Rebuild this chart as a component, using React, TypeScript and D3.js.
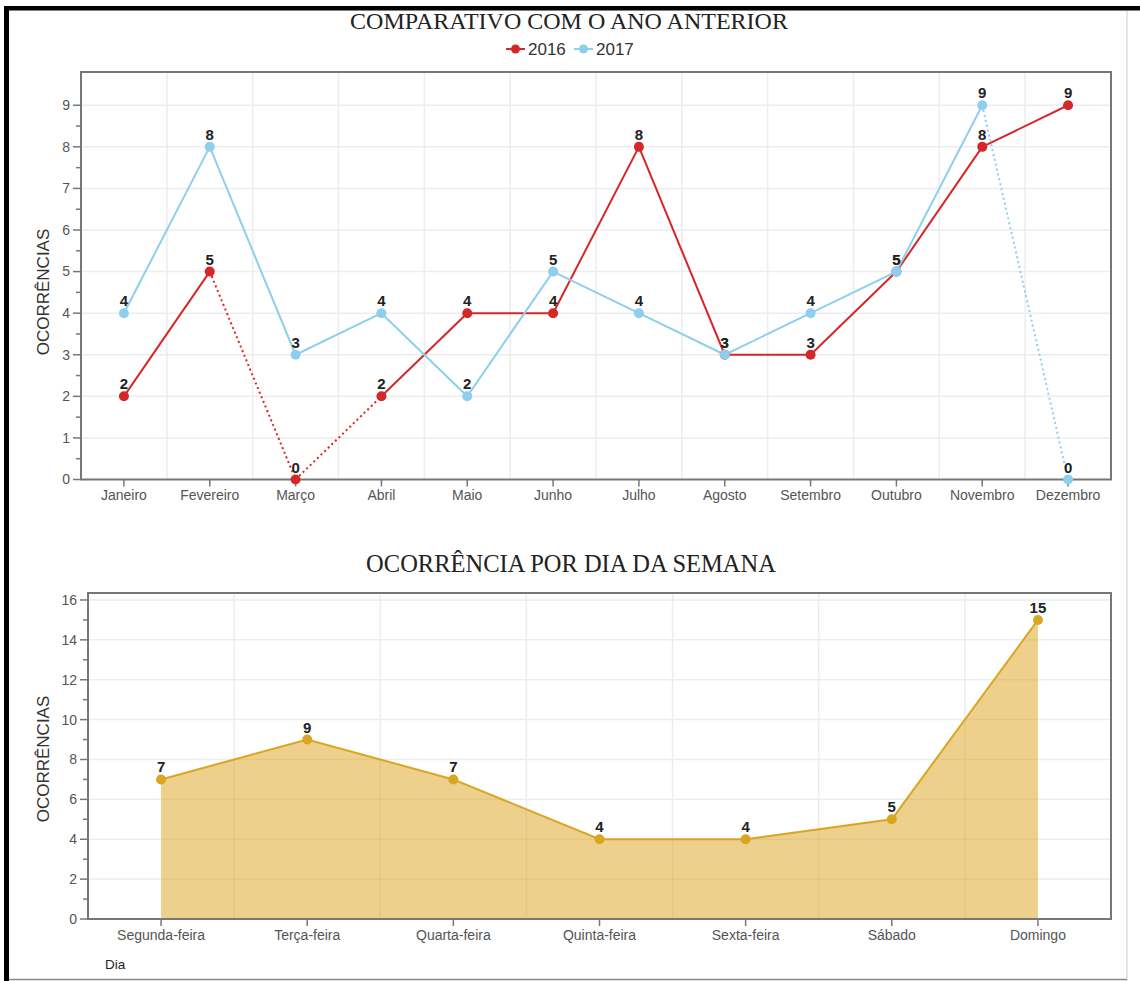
import React from "react";
import * as d3 from "d3";

const months = ["Janeiro", "Fevereiro", "Março", "Abril", "Maio", "Junho", "Julho", "Agosto", "Setembro", "Outubro", "Novembro", "Dezembro"];
const series2016 = [2, 5, 0, 2, 4, 4, 8, 3, 3, 5, 8, 9];
const series2017 = [4, 8, 3, 4, 2, 5, 4, 3, 4, 5, 9, 0];
const monthTicks = [0, 1, 2, 3, 4, 5, 6, 7, 8, 9];

const days = ["Segunda-feira", "Terça-feira", "Quarta-feira", "Quinta-feira", "Sexta-feira", "Sábado", "Domingo"];
const dayValues = [7, 9, 7, 4, 4, 5, 15];
const dayTicks = [0, 2, 4, 6, 8, 10, 12, 14, 16];

const SANS = "'Liberation Sans', Arial, sans-serif";
const SERIF = "'Liberation Serif', 'Times New Roman', serif";
const RED = "#d62728";
const BLUE = "#8ecff0";
const GOLD = "#daa520";
const AXIS = "#777";
const GRID = "#ededed";

type Series = { name: string; values: number[]; color: string };

function YAxis({ y, left, ticks, minorStep }: { y: d3.ScaleLinear<number, number>; left: number; ticks: number[]; minorStep: number }) {
  const minors: number[] = [];
  for (let i = 0; i < ticks.length - 1; i++) minors.push(ticks[i] + minorStep);
  return (
    <g>
      {ticks.map((t) => (
        <g key={"t" + t}>
          <line x1={left - 8} x2={left} y1={y(t)} y2={y(t)} stroke={AXIS} strokeWidth={1.5} />
          <text x={left - 11} y={y(t)} dy="0.35em" textAnchor="end" fontFamily={SANS} fontSize={14} fill="#555">{t}</text>
        </g>
      ))}
      {minors.map((t) => (
        <line key={"m" + t} x1={left - 5} x2={left} y1={y(t)} y2={y(t)} stroke={AXIS} strokeWidth={1.5} />
      ))}
    </g>
  );
}

function TopChart() {
  const left = 81, right = 1111, top = 72, bottom = 479.5;
  const x = d3.scaleBand<string>().domain(months).range([left, right]).padding(0);
  const y = d3.scaleLinear().domain([0, 9.8]).range([bottom, top]);
  const cx = (m: string) => (x(m) as number) + x.bandwidth() / 2;
  const all: Series[] = [
    { name: "2016", values: series2016, color: RED },
    { name: "2017", values: series2017, color: BLUE },
  ];
  const line = d3.line<[number, number]>().x((d) => d[0]).y((d) => d[1]);
  const legendItems = [
    { name: "2016", color: RED, x: 506 },
    { name: "2017", color: BLUE, x: 574 },
  ];
  return (
    <g>
      <text x={569} y={29} textAnchor="middle" fontFamily={SERIF} fontSize={24} fill="#222">COMPARATIVO COM O ANO ANTERIOR</text>
      {legendItems.map((l) => (
        <g key={l.name}>
          <line x1={l.x} x2={l.x + 19} y1={49} y2={49} stroke={l.color} strokeWidth={2} />
          <circle cx={l.x + 9.5} cy={49} r={4.5} fill={l.color} />
          <text x={l.x + 22} y={49} dy="0.35em" fontFamily={SANS} fontSize={17} fill="#333">{l.name}</text>
        </g>
      ))}
      {monthTicks.map((t) => (
        <line key={"gy" + t} x1={left} x2={right} y1={y(t)} y2={y(t)} stroke={GRID} strokeWidth={1.5} />
      ))}
      {months.slice(1).map((m) => (
        <line key={"gx" + m} x1={x(m)} x2={x(m)} y1={top} y2={bottom} stroke={GRID} strokeWidth={1.5} />
      ))}
      <rect x={left} y={top} width={right - left} height={bottom - top} fill="none" stroke={AXIS} strokeWidth={2} />
      <YAxis y={y} left={left} ticks={monthTicks} minorStep={0.5} />
      {months.map((m) => (
        <g key={"xt" + m}>
          <line x1={cx(m)} x2={cx(m)} y1={bottom} y2={bottom + 7} stroke={AXIS} strokeWidth={1.5} />
          <text x={cx(m)} y={495} dy="0.35em" textAnchor="middle" fontFamily={SANS} fontSize={14} fill="#555">{m}</text>
        </g>
      ))}
      <text transform={`translate(43,292) rotate(-90)`} textAnchor="middle" dy="0.35em" fontFamily={SANS} fontSize={17} fill="#333">OCORRÊNCIAS</text>
      {all.map((s) => (
        <g key={s.name}>
          {s.values.slice(1).map((v, i) => {
            const a = s.values[i];
            const dotted = a === 0 || v === 0;
            const d = line([[cx(months[i]), y(a)], [cx(months[i + 1]), y(v)]]) as string;
            return <path key={i} d={d} fill="none" stroke={s.color} strokeWidth={2} strokeDasharray={dotted ? "2,3" : undefined} />;
          })}
        </g>
      ))}
      {all.map((s) => (
        <g key={"p" + s.name}>
          {s.values.map((v, i) => (
            <circle key={i} cx={cx(months[i])} cy={y(v)} r={5} fill={s.color} />
          ))}
        </g>
      ))}
      {all.map((s) => (
        <g key={"l" + s.name}>
          {s.values.map((v, i) => (
            <text key={i} x={cx(months[i])} y={y(v) - 7} textAnchor="middle" fontFamily={SANS} fontWeight="bold" fontSize={15} fill="#222">{v}</text>
          ))}
        </g>
      ))}
    </g>
  );
}

function BottomChart() {
  const left = 88, right = 1111, top = 593, bottom = 919;
  const x = d3.scaleBand<string>().domain(days).range([left, right]).padding(0);
  const y = d3.scaleLinear().domain([0, 16.35]).range([bottom, top]);
  const cx = (m: string) => (x(m) as number) + x.bandwidth() / 2;
  const pts: [number, number][] = dayValues.map((v, i) => [cx(days[i]), y(v)]);
  const area = d3.area<[number, number]>().x((d) => d[0]).y0(bottom).y1((d) => d[1]);
  const line = d3.line<[number, number]>().x((d) => d[0]).y((d) => d[1]);
  return (
    <g>
      <text x={571} y={572} textAnchor="middle" fontFamily={SERIF} fontSize={24.5} fill="#222">OCORRÊNCIA POR DIA DA SEMANA</text>
      {dayTicks.map((t) => (
        <line key={"gy" + t} x1={left} x2={right} y1={y(t)} y2={y(t)} stroke={GRID} strokeWidth={1.5} />
      ))}
      {days.slice(1).map((m) => (
        <line key={"gx" + m} x1={x(m)} x2={x(m)} y1={top} y2={bottom} stroke={GRID} strokeWidth={1.5} />
      ))}
      <path d={area(pts) as string} fill={GOLD} fillOpacity={0.52} />
      <path d={line(pts) as string} fill="none" stroke={GOLD} strokeWidth={2} />
      <rect x={left} y={top} width={right - left} height={bottom - top} fill="none" stroke={AXIS} strokeWidth={2} />
      <YAxis y={y} left={left} ticks={dayTicks} minorStep={1} />
      {days.map((m) => (
        <g key={"xt" + m}>
          <line x1={cx(m)} x2={cx(m)} y1={bottom} y2={bottom + 7} stroke={AXIS} strokeWidth={1.5} />
          <text x={cx(m)} y={935} dy="0.35em" textAnchor="middle" fontFamily={SANS} fontSize={14} fill="#555">{m}</text>
        </g>
      ))}
      <text x={105} y={964} dy="0.35em" fontFamily={SANS} fontSize={13.5} fill="#222">Dia</text>
      <text transform={`translate(43,759) rotate(-90)`} textAnchor="middle" dy="0.35em" fontFamily={SANS} fontSize={17} fill="#333">OCORRÊNCIAS</text>
      {pts.map((p, i) => (
        <circle key={i} cx={p[0]} cy={p[1]} r={5} fill={GOLD} />
      ))}
      {dayValues.map((v, i) => (
        <text key={"l" + i} x={pts[i][0]} y={pts[i][1] - 7} textAnchor="middle" fontFamily={SANS} fontWeight="bold" fontSize={15} fill="#222">{v}</text>
      ))}
    </g>
  );
}

export default function App() {
  return (
    <svg width={1140} height={981} style={{ position: "absolute", left: 0, top: 0, display: "block", background: "#fff" }}>
      <rect x={0} y={0} width={1140} height={981} fill="#fff" />
      <line x1={1127} x2={1127} y1={8} y2={981} stroke="#e6e6e6" strokeWidth={2} />
      <line x1={9} x2={1127} y1={979.5} y2={979.5} stroke="#888" strokeWidth={1.5} />
      <rect x={4} y={6} width={1136} height={4.5} fill="#000" />
      <rect x={4} y={6} width={5} height={975} fill="#000" />
      <TopChart />
      <BottomChart />
    </svg>
  );
}
